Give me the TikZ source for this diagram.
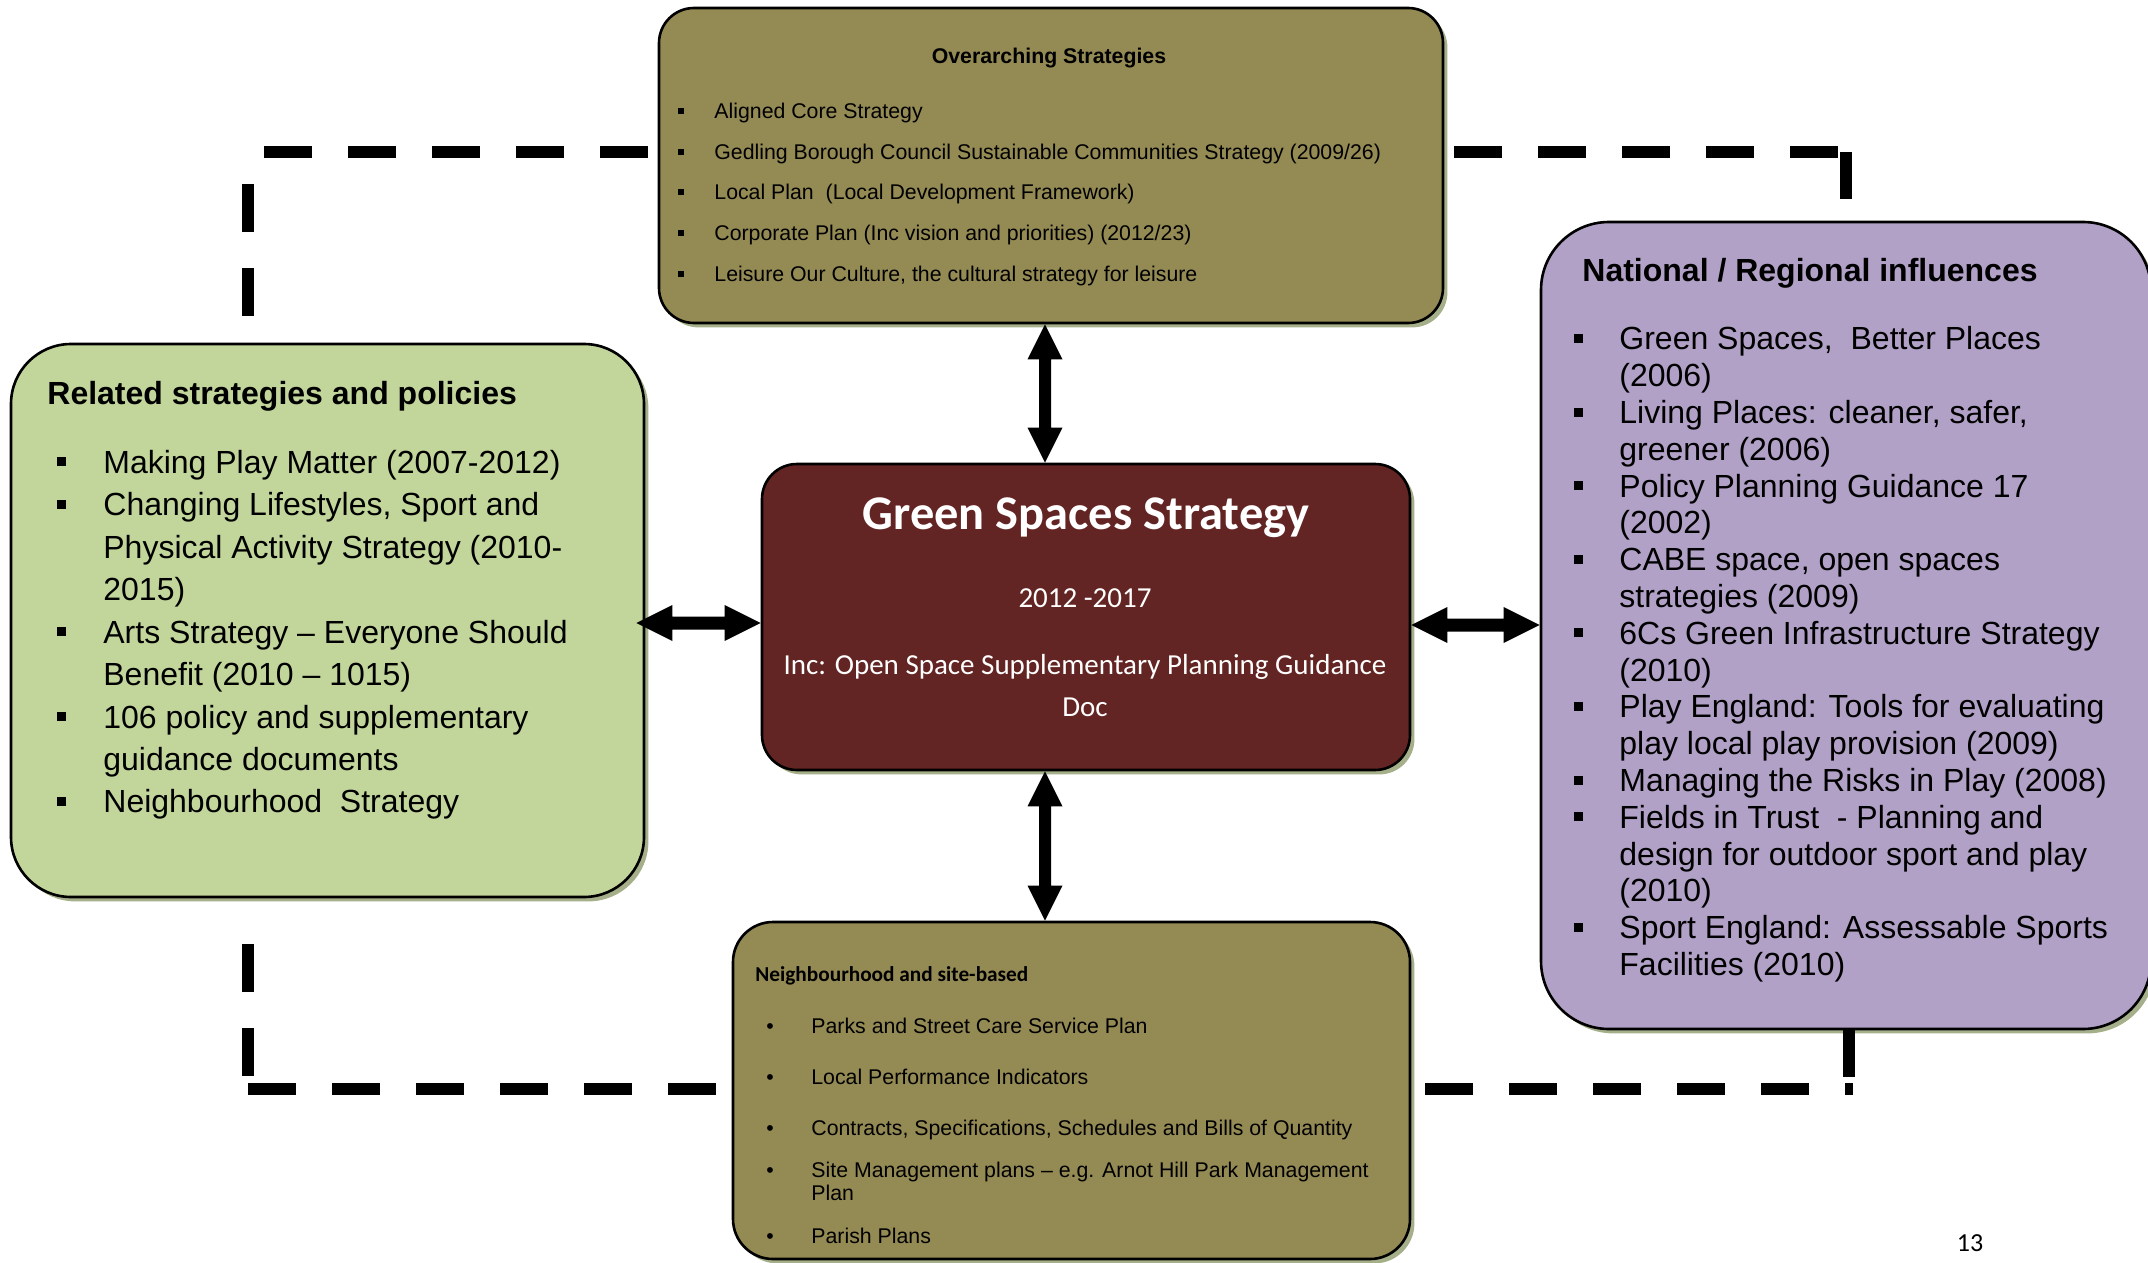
\documentclass[tikz,border=0pt]{standalone}
\usepackage{fontspec}
\setmainfont{Liberation Sans}
\newfontfamily\calib{Carlito}
\usetikzlibrary{calc,shadows}
\definecolor{olivebox}{RGB}{148,138,84}
\definecolor{redbox}{RGB}{99,37,35}
\definecolor{greenbox}{RGB}{194,214,155}
\definecolor{purplebox}{RGB}{178,161,199}
\definecolor{shadowc}{RGB}{165,176,138}
\newcommand\sqb[2]{\raisebox{#2}{\rule{#1}{#1}}}
\newcommand\dblarrowv[2]{\fill (#1) -- ($(#1)+(17.5,35)$) -- ($(#1)+(6,35)$) -- ($(#2)+(6,-35)$) -- ($(#2)+(17.5,-35)$) -- (#2) -- ($(#2)+(-17.5,-35)$) -- ($(#2)+(-6,-35)$) -- ($(#1)+(-6,35)$) -- ($(#1)+(-17.5,35)$) -- cycle;}
\newcommand\dblarrowh[2]{\fill (#1) -- ($(#1)+(36,-18)$) -- ($(#1)+(36,-6.5)$) -- ($(#2)+(-36,-6.5)$) -- ($(#2)+(-36,-18)$) -- (#2) -- ($(#2)+(-36,18)$) -- ($(#2)+(-36,6.5)$) -- ($(#1)+(36,6.5)$) -- ($(#1)+(36,18)$) -- cycle;}
\tikzset{
  box/.style={draw=black, line width=1.3pt, inner sep=0pt,
    drop shadow={shadow xshift=2.2pt, shadow yshift=-2.2pt, fill=shadowc, opacity=1}},
  dashln/.style={line width=6pt, dash pattern=on 24pt off 18pt, line cap=butt},
  tophd/.style={anchor=base, inner sep=0pt, font=\bfseries\fontsize{10.65pt}{12pt}\selectfont},
  topit/.style={anchor=base west, inner sep=0pt, font=\fontsize{10.65pt}{12pt}\selectfont},
  bigit/.style={anchor=base west, inner sep=0pt, font=\fontsize{16pt}{18pt}\selectfont},
  bighd/.style={anchor=base west, inner sep=0pt, font=\bfseries\fontsize{16pt}{18pt}\selectfont},
  cbhd/.style={anchor=base west, inner sep=0pt, font=\calib\bfseries\fontsize{10.65pt}{12pt}\selectfont},
  ctit/.style={anchor=base, inner sep=0pt, text=white, font=\calib\fontsize{14.5pt}{16pt}\selectfont},
  cttl/.style={anchor=base, inner sep=0pt, text=white, font=\calib\bfseries\fontsize{24.2pt}{28pt}\selectfont},
  pgno/.style={anchor=base, inner sep=0pt, font=\calib\fontsize{13pt}{15pt}\selectfont}
}
\begin{document}
\begin{tikzpicture}[x=0.5pt,y=-0.5pt]
\useasboundingbox (0,0) rectangle (2148,1263);

% ---------- boxes ----------
\node[box, fill=olivebox, rounded corners=17.5pt, minimum width=392pt, minimum height=157.5pt] (top) at (1051,165.5) {};
\node[box, fill=redbox, rounded corners=17.5pt, minimum width=324pt, minimum height=153pt] (ctr) at (1086,617) {};
\node[box, fill=greenbox, rounded corners=30pt, minimum width=316.5pt, minimum height=276.5pt] (left) at (327.5,620.5) {};
\node[box, fill=purplebox, rounded corners=34pt, minimum width=305pt, minimum height=403.5pt] (right) at (1846,625.5) {};
\node[box, fill=olivebox, rounded corners=20pt, minimum width=338.5pt, minimum height=168.5pt] (bot) at (1071.5,1090.5) {};

% ---------- dashed connectors ----------
\coordinate (d1) at (264,152);   \coordinate (d2) at (648,152);
\coordinate (d3) at (248,184);   \coordinate (d4) at (248,316);
\coordinate (d5) at (1454,152);  \coordinate (d6) at (1838,152);
\coordinate (d7) at (1846,152);  \coordinate (d8) at (1846,199);
\coordinate (d9) at (248,944);   \coordinate (d10) at (248,1076);
\coordinate (d11) at (248,1089); \coordinate (d12) at (716,1089);
\coordinate (d13) at (1425,1089); \coordinate (d14) at (1853,1089);
\coordinate (d15) at (1849,1029); \coordinate (d16) at (1849,1077);
\draw[dashln] (d1) -- (d2);
\draw[dashln] (d3) -- (d4);
\draw[dashln] (d5) -- (d6);
\draw[dashln] (d7) -- (d8);
\draw[dashln] (d9) -- (d10);
\draw[dashln] (d11) -- (d12);
\draw[dashln] (d13) -- (d14);
\draw[dashln] (d15) -- (d16);

% ---------- block double arrows ----------
\coordinate (ax) at (1045,0);
\coordinate (ayl) at (0,623);
\coordinate (ayr) at (0,625);
\coordinate (a1) at (top.south -| ax);
\coordinate (a2) at (ctr.north -| ax);
\coordinate (a3) at (ctr.south -| ax);
\coordinate (a4) at (bot.north -| ax);
\coordinate (a5) at ($(left.east |- ayl)+(-9,0)$);
\coordinate (a6) at (ctr.west |- ayl);
\coordinate (a7) at (ctr.east |- ayr);
\coordinate (a8) at (right.west |- ayr);
\dblarrowv{a1}{a2}
\dblarrowv{a3}{a4}
\dblarrowh{a5}{a6}
\dblarrowh{a7}{a8}

% ---------- top box text ----------
\node[tophd] (th) at (1049,64) {Overarching Strategies};
\node[topit] (t0) at (678,118.7) {\makebox[18pt][l]{\sqb{3pt}{2.35pt}}Aligned Core Strategy};
\node[topit] (t1) at (678,159.8) {\makebox[18pt][l]{\sqb{3pt}{2.35pt}}Gedling Borough Council Sustainable Communities Strategy (2009/26)};
\node[topit] (t2) at (678,199.5) {\makebox[18pt][l]{\sqb{3pt}{2.35pt}}Local Plan\ \ (Local Development Framework)};
\node[topit] (t3) at (678,240.6) {\makebox[18pt][l]{\sqb{3pt}{2.35pt}}Corporate Plan (Inc vision and priorities) (2012/23)};
\node[topit] (t4) at (678,281.7) {\makebox[18pt][l]{\sqb{3pt}{2.35pt}}Leisure Our Culture, the cultural strategy for leisure};

% ---------- centre box text ----------
\node[cttl] (c0) at (1086,529) {Green Spaces Strategy};
\node[ctit] (c1) at (1085,607) {2012 -2017};
\node[ctit] (c2) at (1085,674) {Inc: Open Space Supplementary Planning Guidance};
\node[ctit] (c3) at (1085,716) {Doc};

% ---------- left box text ----------
\node[bighd] (lh) at (47,404.5) {Related strategies and policies};
\node[bigit] (l0) at (57,473.2) {\makebox[23pt][l]{\sqb{4.5pt}{3.5pt}}Making Play Matter (2007-2012)};
\node[bigit] (l1) at (57,515.7) {\makebox[23pt][l]{\sqb{4.5pt}{3.5pt}}Changing Lifestyles, Sport and};
\node[bigit] (l2) at (103,558.1) {Physical Activity Strategy (2010-};
\node[bigit] (l3) at (103,600.6) {2015)};
\node[bigit] (l4) at (57,643.1) {\makebox[23pt][l]{\sqb{4.5pt}{3.5pt}}Arts Strategy – Everyone Should};
\node[bigit] (l5) at (103,685.5) {Benefit (2010 – 1015)};
\node[bigit] (l6) at (57,728.0) {\makebox[23pt][l]{\sqb{4.5pt}{3.5pt}}106 policy and supplementary};
\node[bigit] (l7) at (103,770.5) {guidance documents};
\node[bigit] (l8) at (57,812.9) {\makebox[23pt][l]{\sqb{4.5pt}{3.5pt}}Neighbourhood\ \ Strategy};

% ---------- right box text ----------
\node[bighd] (rh) at (1582,281.5) {National / Regional influences};
\node[bigit] (r0) at (1573.5,349.9) {\makebox[22.75pt][l]{\sqb{4.5pt}{3.5pt}}Green Spaces,\ \ Better Places};
\node[bigit] (r1) at (1619,386.7) {(2006)};
\node[bigit] (r2) at (1573.5,423.5) {\makebox[22.75pt][l]{\sqb{4.5pt}{3.5pt}}Living Places: cleaner, safer,};
\node[bigit] (r3) at (1619,460.3) {greener (2006)};
\node[bigit] (r4) at (1573.5,497.1) {\makebox[22.75pt][l]{\sqb{4.5pt}{3.5pt}}Policy Planning Guidance 17};
\node[bigit] (r5) at (1619,533.9) {(2002)};
\node[bigit] (r6) at (1573.5,570.7) {\makebox[22.75pt][l]{\sqb{4.5pt}{3.5pt}}CABE space, open spaces};
\node[bigit] (r7) at (1619,607.5) {strategies (2009)};
\node[bigit] (r8) at (1573.5,644.3) {\makebox[22.75pt][l]{\sqb{4.5pt}{3.5pt}}6Cs Green Infrastructure Strategy};
\node[bigit] (r9) at (1619,681.1) {(2010)};
\node[bigit] (r10) at (1573.5,717.9) {\makebox[22.75pt][l]{\sqb{4.5pt}{3.5pt}}Play England: Tools for evaluating};
\node[bigit] (r11) at (1619,754.7) {play local play provision (2009)};
\node[bigit] (r12) at (1573.5,791.5) {\makebox[22.75pt][l]{\sqb{4.5pt}{3.5pt}}Managing the Risks in Play (2008)};
\node[bigit] (r13) at (1573.5,828.3) {\makebox[22.75pt][l]{\sqb{4.5pt}{3.5pt}}Fields in Trust\ \ - Planning and};
\node[bigit] (r14) at (1619,865.1) {design for outdoor sport and play};
\node[bigit] (r15) at (1619,901.9) {(2010)};
\node[bigit] (r16) at (1573.5,938.7) {\makebox[22.75pt][l]{\sqb{4.5pt}{3.5pt}}Sport England: Assessable Sports};
\node[bigit] (r17) at (1619,975.5) {Facilities (2010)};

% ---------- bottom box text ----------
\node[cbhd] (bh) at (755,981) {Neighbourhood and site-based};
\node[topit] (b0) at (766,1033.7) {\makebox[22.5pt][l]{•}Parks and Street Care Service Plan};
\node[topit] (b1) at (766,1084.4) {\makebox[22.5pt][l]{•}Local Performance Indicators};
\node[topit] (b2) at (766,1135.1) {\makebox[22.5pt][l]{•}Contracts, Specifications, Schedules and Bills of Quantity};
\node[topit] (b3) at (766,1177.6) {\makebox[22.5pt][l]{•}Site Management plans – e.g. Arnot Hill Park Management};
\node[topit] (b4) at (811,1200.9) {Plan};
\node[topit] (b5) at (766,1243.3) {\makebox[22.5pt][l]{•}Parish Plans};

% ---------- page number ----------
\node[pgno] (pg) at (1970,1251) {13};
\end{tikzpicture}
\end{document}
